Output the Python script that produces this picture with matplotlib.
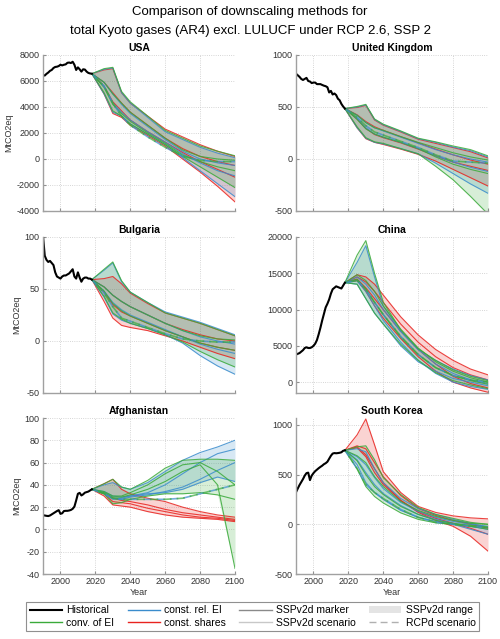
import matplotlib
matplotlib.use('Agg')
import matplotlib.pyplot as plt
from matplotlib.lines import Line2D
from matplotlib.patches import Patch

plt.rcParams['font.family'] = ['Liberation Sans', 'DejaVu Sans']
plt.rcParams['axes.unicode_minus'] = False

hist_years = list(range(1990, 2019))
scen_years = [2018, 2025, 2030, 2035, 2040, 2050, 2060, 2070, 2080, 2090, 2100]

# USA
usa_hist = [6450, 6420, 6550, 6650, 6780, 6850, 7000, 7080, 7100, 7150, 7250, 7200, 7250, 7280,
            7400, 7420, 7380, 7480, 7250, 6850, 7050, 6900, 6720, 6900, 6880, 6720, 6620, 6580, 6560]
usa_blue = [[6560, 6900, 7000, 5100, 4300, 3200, 2100, 1500, 900, 450, 100],
            [6560, 5000, 3600, 3300, 2700, 1900, 1100, 100, -900, -1900, -2900],
            [6560, 5900, 5000, 4200, 3500, 2500, 1500, 600, 0, -300, -500],
            [6560, 5600, 4300, 3600, 3000, 2100, 1300, 400, -300, -900, -1300]]
usa_green = [[6560, 6950, 7050, 5200, 4400, 3300, 2200, 1600, 1000, 600, 250],
             [6560, 5100, 3700, 3300, 2700, 1900, 1100, 200, -600, -1400, -2200],
             [6560, 5900, 5000, 4300, 3600, 2600, 1600, 700, 200, 0, -100],
             [6560, 5500, 4200, 3500, 2900, 2000, 1200, 300, -200, -600, -900]]
usa_red = [[6560, 6850, 6950, 5100, 4300, 3300, 2300, 1700, 1100, 600, 200],
           [6560, 5000, 3500, 3200, 2600, 1800, 1000, 0, -1000, -2100, -3300],
           [6560, 5900, 5100, 4300, 3600, 2600, 1600, 800, 200, -200, -500],
           [6560, 5600, 4400, 3700, 3000, 2100, 1300, 500, -200, -800, -1400]]
usa_rcp = [6560, 5600, 4300, 3300, 2600, 1700, 900, 200, -100, -200, -200]

# United Kingdom
uk_hist = [820, 805, 790, 770, 760, 770, 780, 750, 745, 730, 735, 735, 720, 720, 720,
           712, 705, 700, 690, 640, 655, 620, 630, 615, 580, 565, 530, 505, 485]
uk_blue = [[485, 500, 520, 380, 330, 265, 195, 160, 115, 80, 20],
           [485, 300, 200, 160, 145, 100, 50, -40, -140, -240, -330],
           [485, 420, 350, 300, 270, 210, 150, 90, 40, 0, -30],
           [485, 390, 300, 240, 210, 160, 100, 30, -30, -80, -120]]
uk_green = [[485, 505, 525, 385, 335, 270, 200, 165, 125, 90, 30],
            [485, 310, 205, 165, 150, 100, 50, -70, -200, -360, -530],
            [485, 420, 350, 300, 275, 215, 160, 110, 60, 20, -10],
            [485, 380, 290, 240, 210, 160, 100, 20, -50, -100, -140]]
uk_red = [[485, 495, 515, 375, 325, 260, 190, 150, 110, 70, 10],
          [485, 300, 195, 160, 140, 95, 45, -20, -100, -180, -260],
          [485, 425, 360, 310, 275, 215, 155, 95, 40, -10, -50],
          [485, 385, 295, 235, 205, 155, 95, 30, -30, -70, -110]]
uk_rcp = [485, 400, 320, 260, 230, 170, 110, 40, -20, -30, -40]

# Bulgaria
bg_hist = [101, 82, 78, 76, 77, 75, 73, 66, 62, 61, 60, 62, 63, 63, 64, 65, 67, 69, 62,
           60, 66, 61, 57, 60, 61, 61, 60, 60, 59]
bg_blue = [[59, 68, 75, 57, 47, 37, 28, 23, 18, 12, 6],
           [59, 42, 26, 20, 17, 12, 6, -2, -14, -24, -32],
           [59, 52, 44, 38, 33, 25, 17, 10, 4, 0, -3],
           [59, 48, 37, 30, 25, 18, 11, 4, -3, -8, -12]]
bg_green = [[59, 69, 76, 58, 47, 37, 27, 22, 17, 11, 5],
            [59, 43, 27, 21, 17, 12, 6, -1, -10, -18, -25],
            [59, 52, 44, 38, 33, 25, 17, 10, 5, 2, 1],
            [59, 48, 36, 29, 24, 17, 10, 4, -2, -6, -9]]
bg_red = [[59, 60, 62, 55, 46, 36, 27, 22, 17, 11, 5],
          [59, 38, 22, 15, 13, 10, 5, 0, -6, -12, -17],
          [59, 52, 44, 38, 33, 25, 17, 11, 6, 2, 0],
          [59, 47, 35, 28, 24, 17, 10, 4, -2, -6, -9]]
bg_rcp = [59, 46, 33, 22, 19, 13, 7, 2, 0, -1, -1]

# China
cn_hist = [3800, 3900, 4000, 4200, 4400, 4700, 4800, 4700, 4700, 4800, 5000, 5300, 5800, 6600,
           7500, 8500, 9400, 10300, 10800, 11400, 12200, 12800, 13000, 13200, 13100, 13000,
           12900, 13300, 13700]
cn_blue = [[13700, 16500, 18800, 14500, 10500, 7000, 4500, 3000, 1800, 900, 300],
           [13700, 14000, 12500, 10500, 8500, 5500, 3000, 1200, 0, -600, -1000],
           [13700, 14500, 13500, 12000, 10000, 7000, 4500, 2500, 1200, 300, -200],
           [13700, 13500, 11500, 9500, 8000, 5000, 2800, 1500, 500, 0, -500]]
cn_green = [[13700, 17500, 19500, 15000, 11000, 7200, 4600, 3000, 1700, 800, 200],
            [13700, 13500, 11500, 9500, 8000, 5200, 3000, 1300, 200, -400, -900],
            [13700, 14800, 14000, 12500, 10500, 7300, 4700, 2800, 1500, 600, 0],
            [13700, 14200, 12800, 11000, 9300, 6200, 3800, 2000, 900, 200, -300]]
cn_red = [[13700, 14800, 14500, 13500, 12000, 9000, 6500, 4500, 3000, 1800, 1000],
          [13700, 14000, 12500, 10500, 8800, 6000, 3500, 1500, 0, -800, -1400],
          [13700, 14500, 13800, 12500, 11000, 8000, 5500, 3500, 2000, 1000, 300],
          [13700, 14200, 13000, 11500, 10000, 7000, 4500, 2500, 800, -200, -800]]
cn_rcp = [13700, 14000, 12800, 11000, 9300, 6300, 3800, 2000, 900, 300, 0]

# Afghanistan
af_hist = [12.8, 12.5, 12.2, 12.0, 12.5, 13.5, 14.5, 15.5, 16.5, 17.3, 14.0, 14.5, 16.5, 16.7,
           16.7, 17.0, 17.5, 18.5, 20.5, 26.0, 32.0, 32.8, 30.5, 31.5, 33.0, 33.5, 34.0, 35.0, 36.0]
af_blue = [[36, 40, 42, 38, 36, 42, 52, 62, 69, 74, 80],
           [36, 34, 30, 29, 30, 33, 40, 50, 60, 68, 72],
           [36, 33, 28, 27, 29, 31, 34, 38, 45, 53, 60],
           [36, 32, 27, 28, 30, 32, 33, 36, 42, 47, 43]]
af_green = [[36, 41, 45, 38, 36, 44, 55, 62, 63, 63, 62],
            [36, 34, 30, 30, 33, 40, 50, 58, 60, 52, 40],
            [36, 33, 29, 29, 31, 36, 43, 52, 58, 40, -35],
            [36, 32, 23, 24, 27, 30, 32, 32, 33, 31, 27]]
af_red = [[36, 41, 45, 36, 32, 28, 25, 20, 16, 13, 11],
          [36, 33, 28, 26, 25, 22, 18, 15, 13, 11, 9],
          [36, 30, 22, 21, 20, 16, 13, 11, 10, 9, 7],
          [36, 32, 25, 24, 23, 19, 16, 13, 11, 10, 8]]
af_rcp = [36, 32, 28, 27, 27, 27, 27, 28, 32, 36, 40]

# South Korea
kr_hist = [323, 360, 395, 425, 455, 490, 515, 520, 445, 490, 515, 535, 550, 565, 578, 590,
           605, 615, 630, 660, 690, 712, 717, 715, 717, 720, 725, 740, 745]
kr_blue = [[745, 760, 730, 560, 420, 260, 160, 100, 50, 10, -30],
           [745, 600, 420, 320, 250, 140, 70, 30, 0, -50, -100],
           [745, 680, 600, 470, 360, 220, 130, 70, 30, 0, -20],
           [745, 650, 520, 400, 310, 190, 100, 50, 10, -20, -50]]
kr_green = [[745, 780, 790, 650, 470, 300, 170, 100, 60, 20, 0],
            [745, 560, 380, 280, 215, 115, 50, 15, 0, -20, -50],
            [745, 690, 620, 480, 380, 230, 140, 80, 40, 10, 0],
            [745, 640, 500, 380, 300, 180, 100, 40, 10, -10, -30]]
kr_red = [[745, 900, 1060, 800, 530, 320, 180, 120, 85, 65, 55],
          [745, 780, 700, 560, 420, 240, 120, 40, -20, -120, -270],
          [745, 790, 760, 620, 480, 290, 160, 90, 40, 0, -40],
          [745, 770, 680, 520, 400, 240, 130, 60, 10, -40, -100]]
kr_rcp = [745, 560, 400, 320, 260, 150, 70, 20, 0, -20, -30]

panels = [
    ('USA', usa_hist, usa_blue, usa_green, usa_red, usa_rcp, (-4000, 8000), range(-4000, 8001, 2000)),
    ('United Kingdom', uk_hist, uk_blue, uk_green, uk_red, uk_rcp, (-500, 1000), range(-500, 1001, 500)),
    ('Bulgaria', bg_hist, bg_blue, bg_green, bg_red, bg_rcp, (-50, 100), range(-50, 101, 50)),
    ('China', cn_hist, cn_blue, cn_green, cn_red, cn_rcp, (-1500, 20000), range(0, 20001, 5000)),
    ('Afghanistan', af_hist, af_blue, af_green, af_red, af_rcp, (-40, 100), range(-40, 101, 20)),
    ('South Korea', kr_hist, kr_blue, kr_green, kr_red, kr_rcp, (-500, 1070), range(-500, 1001, 500)),
]

BLUE = '#3a8ccc'
GREEN = '#3aaa3a'
RED = '#e8231f'

fig = plt.figure(figsize=(5, 6.39), dpi=100)
fig.text(0.5, 0.991, 'Comparison of downscaling methods for\ntotal Kyoto gases (AR4) excl. LULUCF under RCP 2.6, SSP 2',
         ha='center', va='top', fontsize=9.5, linespacing=1.75)

lefts = [43 / 500, 296 / 500]
bottoms = [(639 - 211) / 639, (639 - 393) / 639, (639 - 574) / 639]
w = 192 / 500
h = 156 / 639

for i, (name, hist, blue, green, red, rcp, ylim, yt) in enumerate(panels):
    row, col = divmod(i, 2)
    ax = fig.add_axes([lefts[col], bottoms[row], w, h])

    for sc, c in [(red, RED), (blue, BLUE), (green, GREEN)]:
        lo = [min(v) for v in zip(*sc)]
        hi = [max(v) for v in zip(*sc)]
        ax.fill_between(scen_years, lo, hi, color=c, alpha=0.2, lw=0)
    for sc, c in [(red, RED), (blue, BLUE), (green, GREEN)]:
        for s in sc:
            ax.plot(scen_years, s, color=c, lw=0.8, alpha=0.85)
    ax.plot(scen_years, rcp, color=BLUE, lw=1.2, ls=(0, (5, 3)), alpha=0.7)
    ax.plot(scen_years, rcp, color=GREEN, lw=1.2, ls=(4, (5, 3)), alpha=0.7)
    ax.plot(hist_years, hist, color='black', lw=1.5)

    ax.set_xlim(1990, 2100)
    ax.set_ylim(*ylim)
    ax.set_xticks(range(2000, 2101, 20))
    ax.set_yticks(list(yt))
    ax.grid(True, ls=':', color='#c8c8c8', lw=0.6)
    ax.set_axisbelow(True)
    for sp in ['top', 'right']:
        ax.spines[sp].set_visible(False)
    for sp in ['left', 'bottom']:
        ax.spines[sp].set_color('#a0a0a0')
        ax.spines[sp].set_linewidth(1.0)
    ax.tick_params(direction='in', length=2.5, color='#909090', labelcolor='#333333', labelsize=6.5, pad=2.5)
    ax.set_title(name, fontsize=7.5, fontweight='bold', pad=3)
    if row < 2:
        ax.tick_params(labelbottom=False)
    else:
        ax.set_xlabel('Year', fontsize=6.5, color='#333333', labelpad=1)
    if col == 0:
        ax.set_ylabel('MtCO2eq', fontsize=6.5, color='#333333', labelpad=2)

handles = [
    Line2D([], [], color='black', lw=1.5),
    Line2D([], [], color=GREEN, lw=1),
    Line2D([], [], color=BLUE, lw=1),
    Line2D([], [], color=RED, lw=1),
    Line2D([], [], color='#8a8a8a', lw=1),
    Line2D([], [], color='#c8c8c8', lw=1),
    Patch(facecolor='#e4e4e4', edgecolor='none'),
    Line2D([], [], color='#b0b0b0', lw=1, ls=(0, (5, 3))),
]
labels = ['Historical', 'conv. of EI', 'const. rel. EI', 'const. shares',
          'SSPv2d marker', 'SSPv2d scenario', 'SSPv2d range', 'RCPd scenario']
leg = fig.legend(handles, labels, loc='center', bbox_to_anchor=(0.505, 0.0352), ncol=4,
                 fontsize=7.5, handlelength=3.1, handletextpad=0.4, columnspacing=1.3,
                 labelspacing=0.2, borderpad=0.35, fancybox=False, framealpha=1)
leg.get_frame().set_edgecolor('#909090')
leg.get_frame().set_linewidth(0.8)

plt.savefig('out.png', dpi=100)
